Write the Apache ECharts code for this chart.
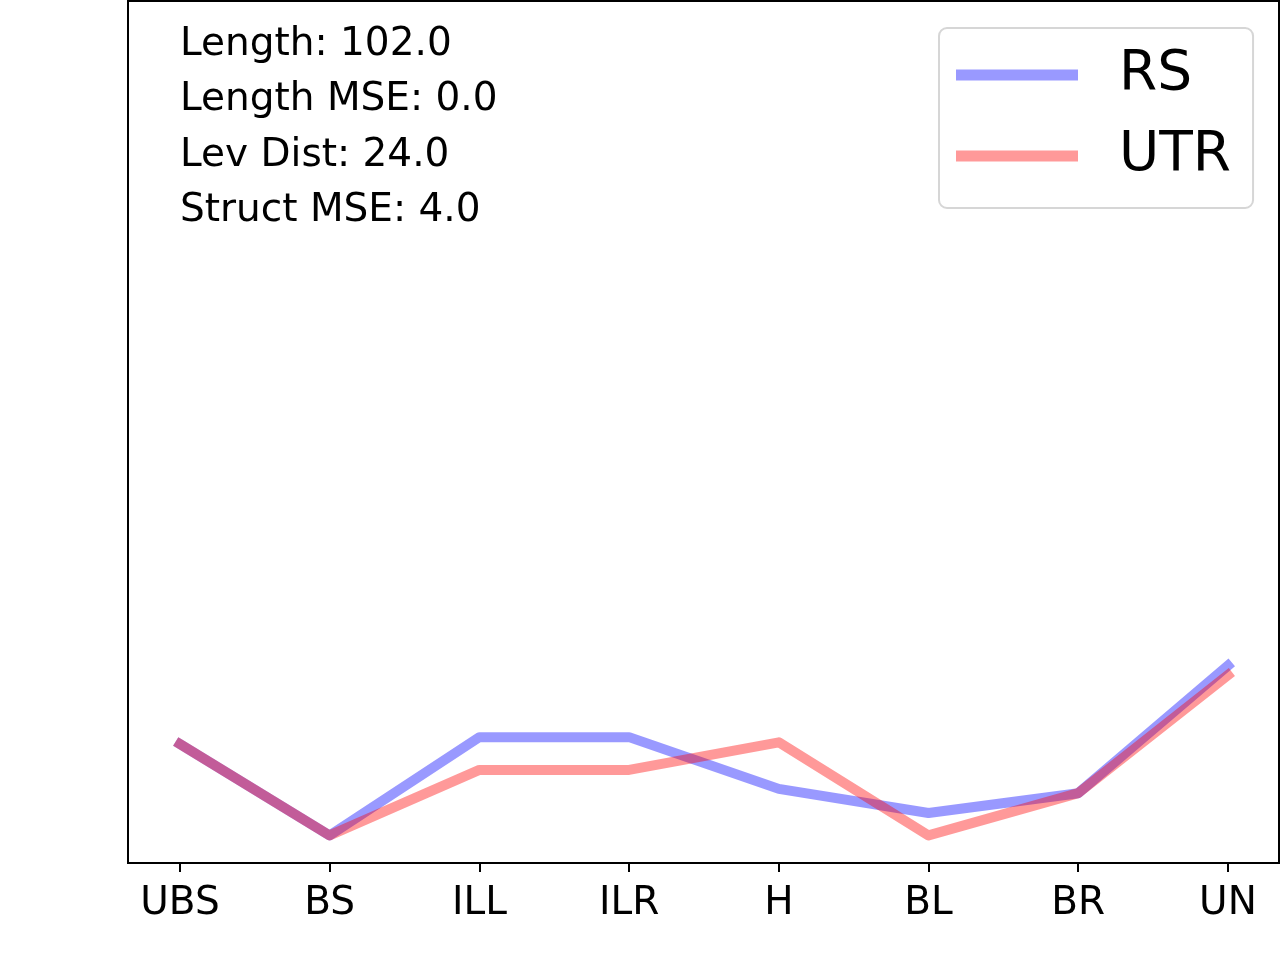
<!DOCTYPE html>
<html>
<head>
<meta charset="utf-8">
<script src="https://cdn.jsdelivr.net/npm/echarts@6/dist/echarts.min.js"></script>
<style>
html,body{margin:0;padding:0;background:#fff;}
#chart{width:1280px;height:960px;}
</style>
</head>
<body>
<div id="chart"></div>
<script>
var categories = ['UBS','BS','ILL','ILR','H','BL','BR','UN'];
var rsValues = [13.8, 3.2, 14.6, 14.6, 8.6, 5.8, 8.1, 22.9];
var utrValues = [13.8, 3.2, 10.8, 10.8, 14.0, 3.2, 8.1, 21.8];
var seriesNames = ['RS','UTR'];
var infoLines = ['Length: 102.0','Length MSE: 0.0','Lev Dist: 24.0','Struct MSE: 4.0'];

function toPairs(vals){
    var out = [];
    for(var i=0;i<vals.length;i++){
        out.push([i, vals[i]]);
    }
    return out;
}

var tickPos = [];
for(var i=0;i<categories.length;i++){ tickPos.push(i); }

var font = '"DejaVu Sans", sans-serif';

var infoGraphics = [];
for(var i=0;i<infoLines.length;i++){
    infoGraphics.push({
        type:'text',
        left:180,
        top:25 + i*55.5,
        style:{text:infoLines[i], font:'39px ' + font, fill:'#000'}
    });
}

var chart = echarts.init(document.getElementById('chart'));
var option = {
    animation:false,
    backgroundColor:'#fff',
    grid:{left:128, right:1, top:1, bottom:97, show:true, borderColor:'#000', borderWidth:2, containLabel:false},
    xAxis:{
        type:'value',
        min:-0.347,
        max:7.341,
        splitLine:{show:false},
        axisLine:{show:true, lineStyle:{color:'#000', width:2}},
        axisTick:{show:true, customValues:tickPos, length:9, lineStyle:{color:'#000', width:2}},
        axisLabel:{
            show:true,
            customValues:tickPos,
            margin:21,
            color:'#000',
            fontSize:39,
            fontFamily:font,
            formatter:function(v){ return categories[Math.round(v)]; }
        }
    },
    yAxis:{
        type:'value',
        min:0,
        max:100,
        splitLine:{show:false},
        axisLine:{show:false},
        axisTick:{show:false},
        axisLabel:{show:false}
    },
    legend:{
        orient:'vertical',
        left:939,
        top:28,
        data:seriesNames,
        icon:'rect',
        itemWidth:122,
        itemHeight:11,
        itemGap:21,
        padding:[17,22,22,17],
        backgroundColor:'#fff',
        borderColor:'#d6d6d6',
        borderWidth:2,
        borderRadius:8,
        textStyle:{color:'#000', fontSize:55, fontFamily:font, lineHeight:52, padding:[8,0,0,36]}
    },
    graphic:infoGraphics,
    series:[
        {
            name:seriesNames[0],
            type:'line',
            data:toPairs(rsValues),
            showSymbol:false,
            symbol:'none',
            color:'rgba(0,0,255,0.4)',
            lineStyle:{color:'rgba(0,0,255,0.4)', width:10, cap:'square', join:'round'}
        },
        {
            name:seriesNames[1],
            type:'line',
            data:toPairs(utrValues),
            showSymbol:false,
            symbol:'none',
            color:'rgba(255,0,0,0.4)',
            lineStyle:{color:'rgba(255,0,0,0.4)', width:10, cap:'square', join:'round'}
        }
    ]
};
chart.setOption(option);
</script>
</body>
</html>
